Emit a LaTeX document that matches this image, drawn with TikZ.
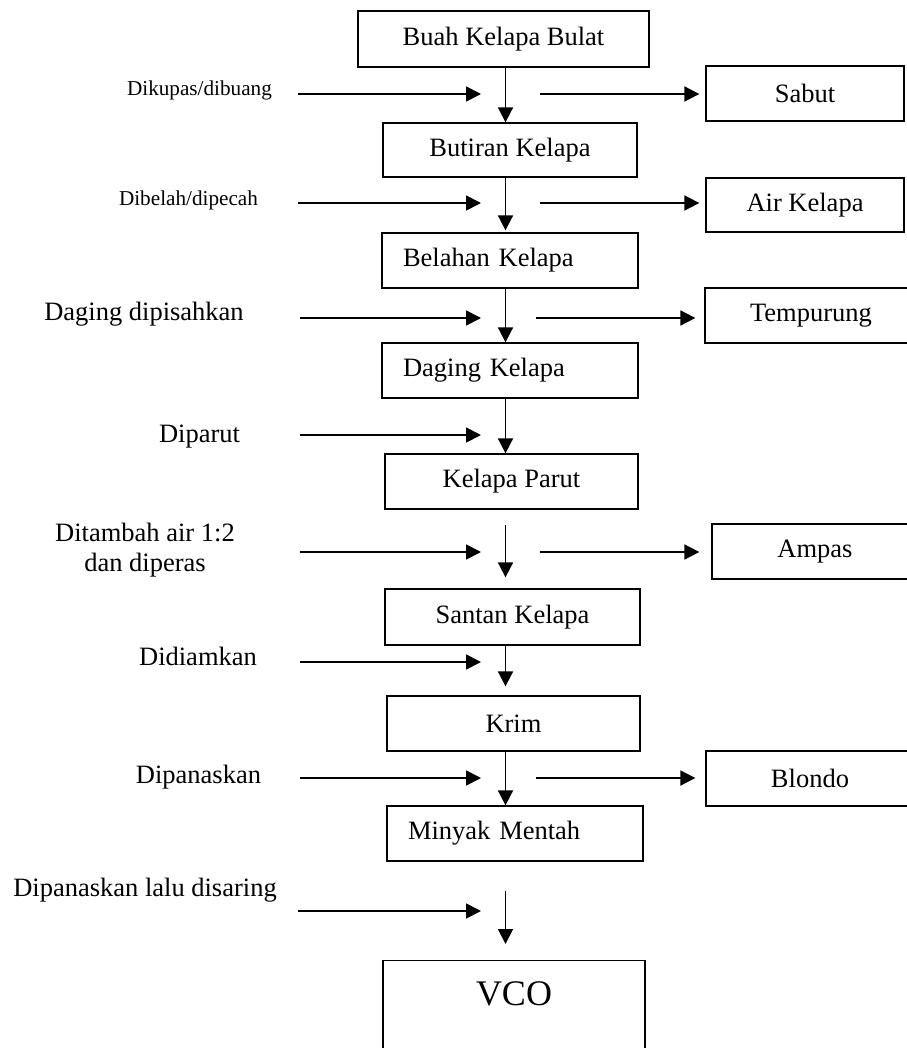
\documentclass[tikz,border=0pt]{standalone}
\usepackage{fontspec}
\setmainfont{Liberation Serif}
\usetikzlibrary{arrows.meta,calc}
\newcommand{\mainsize}{\fontsize{13.25pt}{15pt}\selectfont}
\newcommand{\smallsize}{\fontsize{10.6pt}{12.7pt}\selectfont}
\begin{document}
\begin{tikzpicture}[x=0.5pt, y=-0.5pt,
  box/.style={draw, line width=0.65pt, inner sep=0pt, font=\mainsize, minimum height=27.5pt},
  leftbox/.style={box, align=left, inner xsep=10.5pt, text width=107pt},
  flow/.style={line width=0.9pt, -{Triangle[length=7.5pt, width=7.5pt]}},
  lbl/.style={font=\mainsize, inner sep=0pt, align=center}]
  \useasboundingbox (0,0) rectangle (906,1048);
  \coordinate (spine) at (505.5,0);
  % main column
  \node[box, minimum width=145.5pt, minimum height=28pt] (buah) at (503.5,39) {Buah Kelapa Bulat};
  \node[box, minimum width=127pt, minimum height=27pt] (butiran) at (510,150) {Butiran Kelapa};
  \node[leftbox] (belahan) at (510,260.5) {Belahan Kelapa};
  \node[leftbox] (daging) at (510,370.5) {Daging Kelapa};
  \node[box, minimum width=126.5pt] (parut) at (511.5,481.5) {Kelapa Parut};
  \node[box, minimum width=127.5pt, minimum height=28pt] (santan) at (512.5,617) {Santan Kelapa};
  \node[box, minimum width=126.5pt] (krim) at (513.5,723.5) {Krim};
  \node[leftbox] (minyak) at (515,833.5) {Minyak Mentah};
  \node[box, anchor=north, minimum width=131pt, font=\fontsize{18pt}{21pt}\selectfont,
        text height=22.5pt, text depth=32.5pt] (vco) at (514,960) {VCO};
  % by-products
  \node[box, minimum width=99pt] (sabut) at (805,93.5) {Sabut};
  \node[box, minimum width=99pt, minimum height=27pt] (air) at (805,205) {Air Kelapa};
  \node[box, minimum width=106pt] (tempurung) at (811,315.5) {Tempurung};
  \node[box, minimum width=103pt] (ampas) at (815,551.5) {Ampas};
  \node[box, minimum width=104pt] (blondo) at (810,778.5) {Blondo};
  % process steps
  \node[lbl, font=\smallsize] (kupas) at (199.5,90) {Dikupas/dibuang};
  \node[lbl, font=\smallsize] (belah) at (188.5,200) {Dibelah/dipecah};
  \node[lbl] (pisah) at (144,314) {Daging dipisahkan};
  \node[lbl] (parutan) at (199.5,437) {Diparut};
  \node[lbl] (peras) at (145,550) {Ditambah air 1:2\\dan diperas};
  \node[lbl] (diam) at (198,656) {Didiamkan};
  \node[lbl] (panas) at (198.5,777) {Dipanaskan};
  \node[lbl] (saring) at (145,890) {Dipanaskan lalu disaring};
  % arrow tails
  \coordinate (in1) at (298,94);
  \coordinate (in2) at (298,203);
  \coordinate (in3) at (300,318);
  \coordinate (in4) at (300,435);
  \coordinate (in5) at (300,552);
  \coordinate (in6) at (300,662);
  \coordinate (in7) at (300,778);
  \coordinate (in8) at (298,911);
  \coordinate (out1) at (540,94);
  \coordinate (out2) at (540,203);
  \coordinate (out3) at (536,318);
  \coordinate (out5) at (540,552);
  \coordinate (out7) at (536,778);
  % vertical flow
  \draw[flow] (buah.south -| spine) -- (butiran.north -| spine);
  \draw[flow] (butiran.south -| spine) -- ($(belahan.north -| spine)+(0,-2)$);
  \draw[flow] (belahan.south -| spine) -- (daging.north -| spine);
  \draw[flow] (daging.south -| spine) -- (parut.north -| spine);
  \draw[flow] ($(parut.south -| spine)+(0,15)$) -- ($(santan.north -| spine)+(0,-11)$);
  \draw[flow] (santan.south -| spine) -- ($(krim.north -| spine)+(0,-9)$);
  \draw[flow] (krim.south -| spine) -- (minyak.north -| spine);
  \draw[flow] ($(minyak.south -| spine)+(0,29)$) -- ($(vco.north -| spine)+(0,-16)$);
  % inputs
  \draw[flow] (in1) -- ($(in1 -| spine)+(-24.5,0)$);
  \draw[flow] (in2) -- ($(in2 -| spine)+(-24.5,0)$);
  \draw[flow] (in3) -- ($(in3 -| spine)+(-24.5,0)$);
  \draw[flow] (in4) -- ($(in4 -| spine)+(-24.5,0)$);
  \draw[flow] (in5) -- ($(in5 -| spine)+(-24.5,0)$);
  \draw[flow] (in6) -- ($(in6 -| spine)+(-24.5,0)$);
  \draw[flow] (in7) -- ($(in7 -| spine)+(-24.5,0)$);
  \draw[flow] (in8) -- ($(in8 -| spine)+(-24.5,0)$);
  % outputs
  \draw[flow, shorten >=3pt] (out1) -- (out1 -| sabut.west);
  \draw[flow, shorten >=3pt] (out2) -- (out2 -| air.west);
  \draw[flow, shorten >=4.5pt] (out3) -- (out3 -| tempurung.west);
  \draw[flow, shorten >=6pt] (out5) -- (out5 -| ampas.west);
  \draw[flow, shorten >=5pt] (out7) -- (out7 -| blondo.west);
\end{tikzpicture}
\end{document}
